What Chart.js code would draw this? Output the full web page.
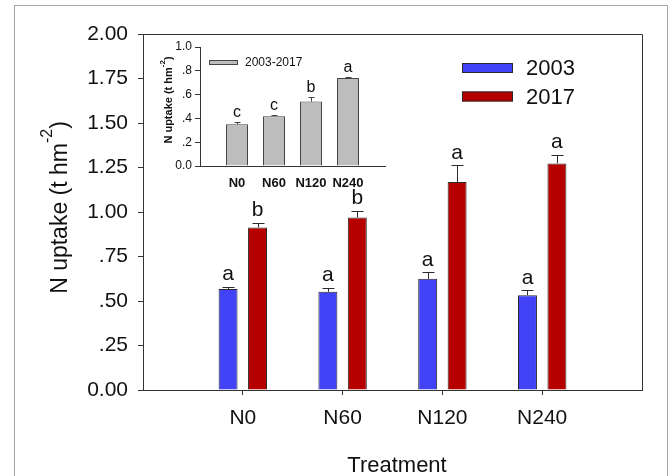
<!DOCTYPE html>
<html>
<head>
<meta charset="utf-8">
<script src="https://cdn.jsdelivr.net/npm/chart.js@4.4.1/dist/chart.umd.min.js"></script>
<style>
  html, body { margin: 0; padding: 0; background: #fff; }
  #wrap { position: relative; width: 670px; height: 476px; overflow: hidden; background: #fff; }
  #frame { position: absolute; left: 14px; top: 5px; width: 654px; height: 520px; border: 1px solid #a6a6a6; box-sizing: border-box; }
  #main { position: absolute; left: 0; top: 0; }
  #inset { position: absolute; left: 150px; top: 30px; }
</style>
</head>
<body>
<div id="wrap">
  <div id="frame"></div>
  <canvas id="main" width="670" height="476"></canvas>
  <canvas id="inset" width="240" height="170"></canvas>
</div>
<script>
// Nitrogen treatments
const categories = ['N0', 'N60', 'N120', 'N240'];
const seriesNames = ['2003', '2017'];

// N uptake (t hm-2), standard errors and significance letters per year
const uptake2003 = [0.567, 0.552, 0.625, 0.533];
const se2003 = [0.012, 0.022, 0.036, 0.028];
const letters2003 = ['a', 'a', 'a', 'a'];

const uptake2017 = [0.913, 0.969, 1.168, 1.273];
const se2017 = [0.026, 0.038, 0.094, 0.050];
const letters2017 = ['b', 'b', 'a', 'a'];

const yTicks = [0, 0.25, 0.5, 0.75, 1, 1.25, 1.5, 1.75, 2];
const yTickLabels = ['0.00', '.25', '.50', '.75', '1.00', '1.25', '1.50', '1.75', '2.00'];

// Inset: change over 2003-2017
const insetName = '2003-2017';
const uptakeChange = [0.350, 0.418, 0.541, 0.740];
const seChange = [0.020, 0.008, 0.036, 0.008];
const lettersChange = ['c', 'c', 'b', 'a'];
const insetTicks = [0, 0.2, 0.4, 0.6, 0.8, 1.0];
const insetTickLabels = ['0.0', '.2', '.4', '.6', '.8', '1.0'];

const FONT = "'Liberation Sans', Arial, sans-serif";
const AXIS = '#333333';
const TEXT = '#111111';
const BLUE = '#4242f6';
const RED = '#b60000';
const GREY = '#bdbdbd';
const EDGE = '#2a2a2a';

// an empty slot on each side keeps the groups away from the axis ends
const slots = ['', ...categories, ''];
const pad = arr => [null, ...arr, null];
const hideEnds = c => (c.index === 0 || c.index === slots.length - 1) ? 'rgba(0,0,0,0)' : AXIS;

// error bars with significance letters above each bar
const errorBars = {
  id: 'errorBars',
  afterDatasetsDraw(chart, args, opts) {
    const ctx = chart.ctx;
    const yScale = chart.scales.y;
    chart.data.datasets.forEach((ds, di) => {
      const meta = chart.getDatasetMeta(di);
      meta.data.forEach((bar, i) => {
        const v = ds.data[i];
        if (v == null) return;
        const top = yScale.getPixelForValue(v + ds.errors[i]);
        const x = Math.round(bar.x) + 0.5;
        const ty = Math.round(top) + 0.5;
        ctx.save();
        ctx.strokeStyle = opts.color;
        ctx.lineWidth = 1;
        ctx.beginPath();
        ctx.moveTo(x, bar.y);
        ctx.lineTo(x, ty);
        ctx.moveTo(x - opts.cap, ty);
        ctx.lineTo(x + opts.cap, ty);
        ctx.stroke();
        ctx.fillStyle = TEXT;
        ctx.font = opts.font;
        ctx.textAlign = 'center';
        ctx.textBaseline = 'alphabetic';
        ctx.fillText(ds.letters[i], bar.x, top - opts.gap);
        ctx.restore();
      });
    });
  }
};

// rotated axis title with a superscript exponent
function drawRotatedTitle(ctx, bx, cy, parts) {
  ctx.save();
  ctx.translate(bx, cy);
  ctx.rotate(-Math.PI / 2);
  ctx.fillStyle = TEXT;
  ctx.textAlign = 'left';
  ctx.textBaseline = 'alphabetic';
  let total = 0;
  parts.forEach(p => { ctx.font = p.font; p.w = ctx.measureText(p.text).width; total += p.w; });
  let x = -total / 2;
  parts.forEach(p => {
    ctx.font = p.font;
    ctx.fillText(p.text, x, -(p.rise || 0));
    x += p.w;
  });
  ctx.restore();
}

const mainDecor = {
  id: 'mainDecor',
  afterDraw(chart) {
    const ctx = chart.ctx;
    const a = chart.chartArea;
    ctx.save();
    // closing box: top and right edges
    ctx.strokeStyle = AXIS;
    ctx.lineWidth = 1;
    ctx.beginPath();
    ctx.moveTo(Math.round(a.left) + 0.5, Math.round(a.top) + 0.5);
    ctx.lineTo(Math.round(a.right) + 0.5, Math.round(a.top) + 0.5);
    ctx.lineTo(Math.round(a.right) + 0.5, Math.round(a.bottom) + 0.5);
    ctx.stroke();

    // axis titles
    drawRotatedTitle(ctx, 67, 207.5, [
      { text: 'N uptake (t hm', font: `23px ${FONT}` },
      { text: '-2', font: `16px ${FONT}`, rise: 15 },
      { text: ')', font: `23px ${FONT}` }
    ]);
    ctx.fillStyle = TEXT;
    ctx.font = `22px ${FONT}`;
    ctx.textAlign = 'center';
    ctx.textBaseline = 'alphabetic';
    ctx.fillText('Treatment', 397, 472);

    // legend
    chart.data.datasets.forEach((ds, i) => {
      const yMid = 68 + i * 28.5;
      ctx.fillStyle = ds.backgroundColor;
      ctx.fillRect(462, yMid - 5, 51, 10);
      ctx.strokeStyle = EDGE;
      ctx.strokeRect(462.5, yMid - 4.5, 50, 9);
      ctx.fillStyle = TEXT;
      ctx.font = `22px ${FONT}`;
      ctx.textAlign = 'left';
      ctx.textBaseline = 'middle';
      ctx.fillText(ds.label, 526, yMid + 1);
    });
    ctx.restore();
  }
};

new Chart(document.getElementById('main'), {
  type: 'bar',
  data: {
    labels: slots,
    datasets: [
      { label: seriesNames[0], data: pad(uptake2003), errors: pad(se2003), letters: pad(letters2003),
        backgroundColor: BLUE, borderColor: EDGE, borderWidth: 1, categoryPercentage: 0.59, barPercentage: 0.644 },
      { label: seriesNames[1], data: pad(uptake2017), errors: pad(se2017), letters: pad(letters2017),
        backgroundColor: RED, borderColor: EDGE, borderWidth: 1, categoryPercentage: 0.59, barPercentage: 0.644 }
    ]
  },
  options: {
    responsive: false,
    animation: false,
    layout: { padding: { left: 0, top: 34, right: 28, bottom: 0 } },
    plugins: {
      legend: { display: false },
      tooltip: { enabled: false },
      errorBars: { color: EDGE, cap: 6, font: `21px ${FONT}`, gap: 6.5 }
    },
    scales: {
      x: {
        offset: false,
        grid: { offset: false, drawOnChartArea: false, tickLength: 5, tickColor: hideEnds },
        border: { display: true, color: AXIS },
        ticks: { font: { family: FONT, size: 21 }, color: TEXT, padding: 11, autoSkip: false, maxRotation: 0 },
        afterFit: s => { s.height = 86; }
      },
      y: {
        min: 0, max: 2,
        afterBuildTicks: s => { s.ticks = yTicks.map(value => ({ value })); },
        grid: { drawOnChartArea: false, tickLength: 5, tickColor: AXIS },
        border: { display: true, color: AXIS },
        ticks: { callback: (v, i) => yTickLabels[i], font: { family: FONT, size: 21 }, color: TEXT, padding: 10 },
        afterFit: s => { s.width = 143; }
      }
    }
  },
  plugins: [errorBars, mainDecor]
});

const insetDecor = {
  id: 'insetDecor',
  afterDraw(chart) {
    const ctx = chart.ctx;
    ctx.save();
    drawRotatedTitle(ctx, 22, 70, [
      { text: 'N uptake (t hm', font: `bold 11px ${FONT}` },
      { text: '-2', font: `bold 8px ${FONT}`, rise: 7 },
      { text: ')', font: `bold 11px ${FONT}` }
    ]);
    const ds = chart.data.datasets[0];
    ctx.fillStyle = ds.backgroundColor;
    ctx.fillRect(59, 30, 29, 5);
    ctx.strokeStyle = '#444';
    ctx.lineWidth = 1;
    ctx.strokeRect(59.5, 30.5, 28, 4);
    ctx.fillStyle = TEXT;
    ctx.font = `12px ${FONT}`;
    ctx.textAlign = 'left';
    ctx.textBaseline = 'middle';
    ctx.fillText(ds.label, 95, 33);
    ctx.restore();
  }
};

new Chart(document.getElementById('inset'), {
  type: 'bar',
  data: {
    labels: slots,
    datasets: [
      { label: insetName, data: pad(uptakeChange), errors: pad(seChange), letters: pad(lettersChange),
        backgroundColor: GREY, borderColor: '#444', borderWidth: 1, categoryPercentage: 1, barPercentage: 0.595 }
    ]
  },
  options: {
    responsive: false,
    animation: false,
    layout: { padding: { left: 0, top: 17, right: 5, bottom: 0 } },
    plugins: {
      legend: { display: false },
      tooltip: { enabled: false },
      errorBars: { color: '#444', cap: 3, font: `16px ${FONT}`, gap: 5 }
    },
    scales: {
      x: {
        offset: false,
        grid: { display: false, offset: false },
        border: { display: true, color: AXIS },
        ticks: { font: { family: FONT, size: 13, weight: 'bold' }, color: TEXT, padding: 2, autoSkip: false, maxRotation: 0 },
        afterFit: s => { s.height = 34; }
      },
      y: {
        min: 0, max: 1,
        afterBuildTicks: s => { s.ticks = insetTicks.map(value => ({ value })); },
        grid: { drawOnChartArea: false, tickLength: 5, tickColor: AXIS },
        border: { display: true, color: AXIS },
        ticks: { callback: (v, i) => insetTickLabels[i], font: { family: FONT, size: 12 }, color: TEXT, padding: 3 },
        afterFit: s => { s.width = 50; }
      }
    }
  },
  plugins: [errorBars, insetDecor]
});
</script>
</body>
</html>
